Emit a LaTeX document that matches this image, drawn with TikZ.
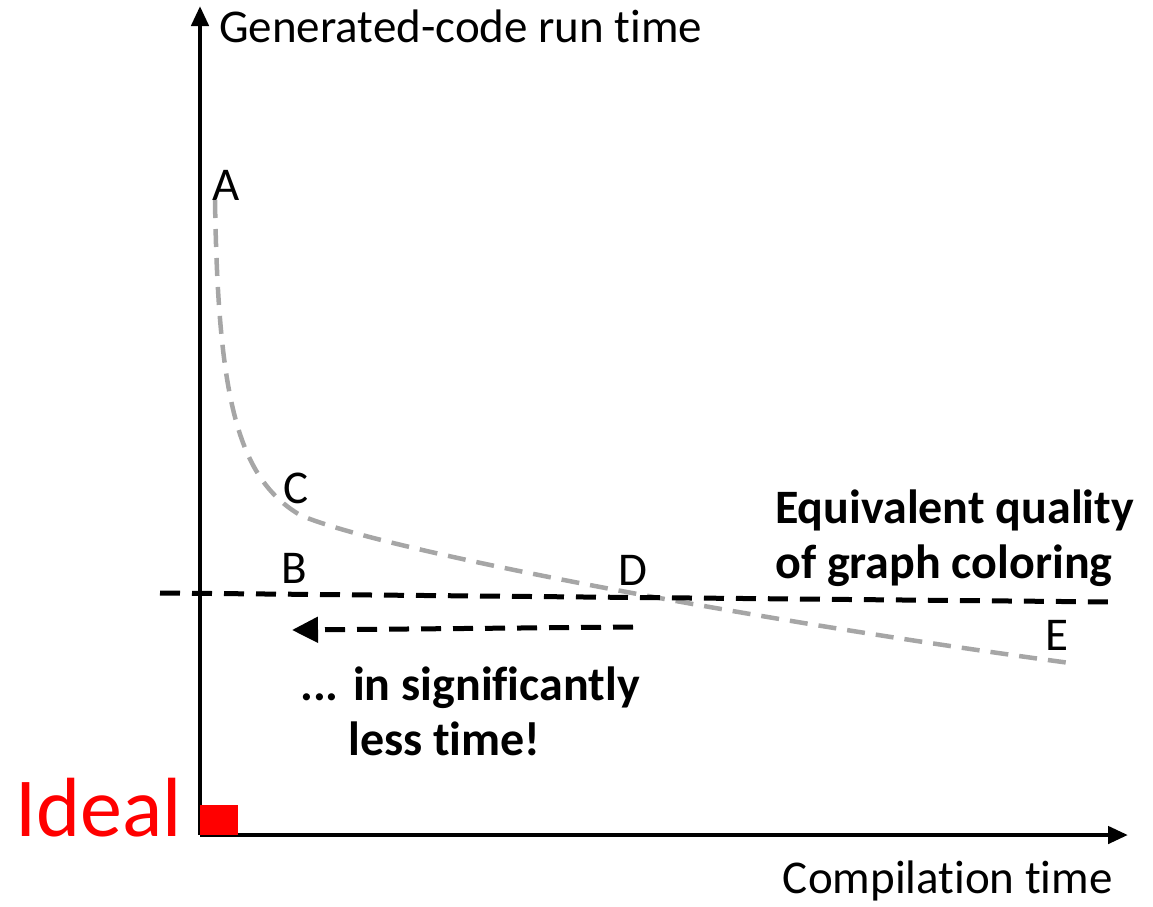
\documentclass[tikz,border=0pt]{standalone}
\usepackage{fontspec}
\setmainfont[Ligatures=NoCommon]{Carlito}
\usepackage{tikz}
\usetikzlibrary{arrows.meta,calc}
\definecolor{curvegray}{HTML}{A6A6A6}

\begin{document}
\begin{tikzpicture}[x=1pt,y=-1pt,
		axis/.style={line width=4.5pt,-{Triangle[length=20pt,width=17pt]}},
		level/.style={line width=5pt,dash pattern=on 20pt off 12pt},
		faster/.style={level,-{Triangle[length=26pt,width=25pt]}},
		curve/.style={line width=4.5pt,curvegray,dash pattern=on 18pt off 11pt},
		lbl/.style={font=\fontsize{47}{56}\selectfont,inner sep=0pt},
		note/.style={font=\fontsize{48}{55}\selectfont\bfseries,inner sep=0pt}]
		\useasboundingbox (0,0) rectangle (1153,906);
		% axes
		\coordinate (origin) at (200,835);
		\coordinate (ytop) at (200,6);
		\coordinate (xend) at (1128,835);
		\draw[axis] (origin) -- (ytop);
		\draw[axis] (origin) -- (xend);
		\node[lbl,anchor=base west]
		(ylabel) at (219,42) 	{Generated-code run time};
		\node[lbl,anchor=base east]
		(xlabel) at (1113,893) 	{Compilation time};
		% ideal point
		\fill[red] (origin) rectangle (238,805);
		\node[anchor=base east,red,inner sep=0pt,font=\fontsize{84}{94}\selectfont]
		(ideal) at (182,836) 	{Ideal};
		% trade-off curve
		\draw[curve] (215,200) .. controls (218,400) and (238,478) .. (300,515)
			.. controls (380,550) and (750,620) .. (1070,663);
		\node[lbl,anchor=base] (ptA) at (226,200) {A};
		\node[lbl,anchor=base] (ptC) at (296,503) {C};
		\node[lbl,anchor=base] (ptB) at (294,583) {B};
		\node[lbl,anchor=base] (ptD) at (633,585) {D};
		\node[lbl,anchor=base] (ptE) at (1057,650) {E};
		% equal quality level
		\coordinate (lvlstart) at (160,593);
		\coordinate (lvlend) at (1116,602);
		\draw[level] (lvlstart) -- (lvlend);
		\node[note,anchor=north west,align=left]
		(quality) at (775,490) 	{Equivalent quality\\of graph coloring};
		\coordinate (fromD) at (633,627);
		\coordinate (toB) at (292,630);
		\draw[faster] (fromD) -- (toB);
		\node[note,anchor=north west,align=left]
		(lesstime) at (300,667) 	{... in significantly\\\hspace*{48pt}less time!};
\end{tikzpicture}
\end{document}
